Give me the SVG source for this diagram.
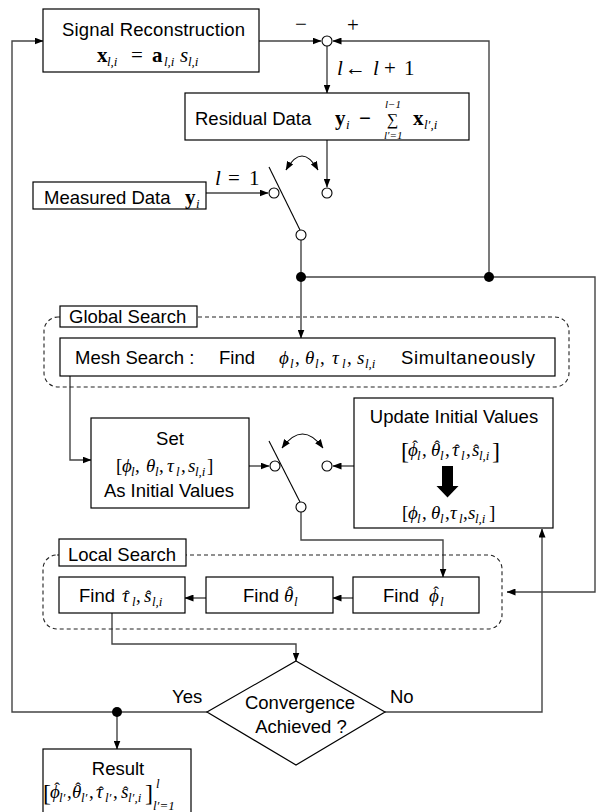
<svg xmlns="http://www.w3.org/2000/svg" width="599" height="812" viewBox="0 0 599 812">
<style>
  .box { fill: #fff; stroke: #000; stroke-width: 1.2; }
  .dash { fill: none; stroke: #222; stroke-width: 1.1; stroke-dasharray: 4 3; }
  .wire { fill: none; stroke: #444; stroke-width: 1.4; }
  .sw { fill: none; stroke: #000; stroke-width: 1.1; }
  .node { fill: #fff; stroke: #000; stroke-width: 1.1; }
  .dot { fill: #000; }
  .t { font-family: "Liberation Sans", Arial, sans-serif; font-size: 18.5px; fill: #000; }
  .m { font-family: "Liberation Serif", "DejaVu Serif", serif; font-style: italic; font-size: 21px; fill: #000; }
  .ms { font-family: "Liberation Serif", "DejaVu Serif", serif; font-style: italic; font-size: 19px; fill: #000; }
  .hat { font-style: normal; font-size: 17px; }
  .sig { font-style: normal; font-size: 16px; }
  .s { font-size: 13px; }
  .xs { font-size: 11px; }
  .b { font-weight: bold; font-style: normal; }
  .u { font-style: normal; }
  .br { font-style: normal; font-size: 24px; }
</style>
<defs>
  <marker id="arr" markerUnits="userSpaceOnUse" markerWidth="9" markerHeight="7" refX="8.5" refY="3.5" orient="auto-start-reverse">
    <path d="M0,0 L9,3.5 L0,7 z" fill="#000"/>
  </marker>
</defs>

<!-- connectors -->
<g id="connectors">
  <path class="wire" d="M259,41 H321" marker-end="url(#arr)"/>
  <path class="wire" d="M489,277 V41 H333" marker-end="url(#arr)"/>
  <path class="wire" d="M327,46 V93" marker-end="url(#arr)"/>
  <path class="wire" d="M327,140 V187" marker-end="url(#arr)"/>
  <path class="wire" d="M206,193 H268" marker-end="url(#arr)"/>
  <path class="wire" d="M301,240 V338" marker-end="url(#arr)"/>
  <path class="wire" d="M301,277 H595 V592 H507" marker-end="url(#arr)"/>
  <path class="wire" d="M70,376 V460 H91" marker-end="url(#arr)"/>
  <path class="wire" d="M249,466 H269" marker-end="url(#arr)"/>
  <path class="wire" d="M354,466 H333" marker-end="url(#arr)"/>
  <path class="wire" d="M301,512 V540 H443 V577" marker-end="url(#arr)"/>
  <path class="wire" d="M353,598 H333" marker-end="url(#arr)"/>
  <path class="wire" d="M206,598 H185" marker-end="url(#arr)"/>
  <path class="wire" d="M112,613 V644 H296 V661" marker-end="url(#arr)"/>
  <path class="wire" d="M385,712 H542 V529" marker-end="url(#arr)"/>
  <path class="wire" d="M207,712 H12 V41 H43" marker-end="url(#arr)"/>
  <path class="wire" d="M117,712 V749" marker-end="url(#arr)"/>
  <circle class="dot" cx="301" cy="277" r="5"/>
  <circle class="dot" cx="489" cy="277" r="5"/>
  <circle class="dot" cx="117" cy="712" r="5"/>
</g>

<!-- summing junction -->
<g id="sum">
  <circle class="node" cx="327" cy="41" r="5"/>
  <text class="m u" x="295" y="31">−</text>
  <text class="m u" x="347" y="32">+</text>
  <text class="m"><tspan x="337" y="75">l</tspan><tspan class="u" x="345" y="75">←</tspan><tspan x="373" y="75">l</tspan><tspan class="u" x="384" y="75">+</tspan><tspan class="u" x="404" y="75">1</tspan></text>
</g>

<!-- signal reconstruction -->
<g id="signal">
  <rect class="box" x="43" y="9" width="216" height="63"/>
  <text class="t" x="62" y="36" textLength="183">Signal Reconstruction</text>
  <text class="m"><tspan class="b" x="97" y="62">x</tspan><tspan class="s" x="107" y="66">l,i</tspan><tspan class="u" x="131" y="62">=</tspan><tspan class="b" x="152" y="62">a</tspan><tspan class="s" x="164" y="66">l,i</tspan><tspan x="180" y="62">s</tspan><tspan class="s" x="188" y="66">l,i</tspan></text>
</g>

<!-- residual data -->
<g id="residual">
  <rect class="box" x="185" y="93" width="284" height="47"/>
  <text class="t" x="195" y="125">Residual Data</text>
  <text class="m"><tspan class="b" x="335" y="125">y</tspan><tspan class="s" x="346" y="129">i</tspan><tspan class="b" x="359" y="125">−</tspan><tspan class="xs" x="385" y="108">l−1</tspan><tspan class="sig" x="387" y="125">∑</tspan><tspan class="xs" x="384" y="139">l′=1</tspan><tspan class="b" x="413" y="125">x</tspan><tspan class="s" x="424" y="129">l′,i</tspan></text>
</g>

<!-- measured data -->
<g id="measured">
  <rect class="box" x="33" y="182" width="173" height="27"/>
  <text class="t" x="44" y="204">Measured Data</text>
  <text class="m"><tspan class="b" x="185" y="204">y</tspan><tspan class="s" x="196" y="208">i</tspan></text>
  <text class="m"><tspan x="215" y="185">l</tspan><tspan class="u" x="228" y="185">=</tspan><tspan class="u" x="249" y="185">1</tspan></text>
</g>

<!-- first switch -->
<g id="switch1">
  <line class="sw" x1="269" y1="167" x2="300" y2="230"/>
  <path class="sw" d="M286,170 Q302,142 318,170" marker-start="url(#arr)" marker-end="url(#arr)"/>
  <circle class="node" cx="274" cy="193" r="5"/>
  <circle class="node" cx="327" cy="193" r="5"/>
  <circle class="node" cx="301" cy="235" r="5"/>
</g>

<!-- global search -->
<g id="global-search">
  <rect class="dash" x="44" y="317" width="525" height="70" rx="14"/>
  <rect class="box" x="60" y="306" width="137" height="21"/>
  <text class="t" x="69" y="323">Global Search</text>
</g>

<g id="mesh">
  <rect class="box" x="60" y="338" width="495" height="38"/>
  <text class="t" x="75" y="364">Mesh Search :</text>
  <text class="t" x="219" y="364">Find</text>
  <text class="ms"><tspan x="279" y="364">ϕ</tspan><tspan class="s" x="290" y="368">l</tspan><tspan class="u" x="295" y="364">,</tspan><tspan x="305" y="364">θ</tspan><tspan class="s" x="315" y="368">l</tspan><tspan class="u" x="320" y="364">,</tspan><tspan x="332" y="364">τ</tspan><tspan class="s" x="342" y="368">l</tspan><tspan class="u" x="347" y="364">,</tspan><tspan x="357" y="364">s</tspan><tspan class="s" x="365" y="368">l,i</tspan></text>
  <text class="t" x="401" y="364" textLength="134">Simultaneously</text>
</g>

<!-- set initial values -->
<g id="set">
  <rect class="box" x="91" y="418" width="158" height="90"/>
  <text class="t" x="170" y="445" text-anchor="middle">Set</text>
  <text class="ms"><tspan class="u" x="116" y="472">[</tspan><tspan x="122" y="472">ϕ</tspan><tspan class="s" x="131" y="476">l</tspan><tspan class="u" x="135" y="472">,</tspan><tspan x="146" y="472">θ</tspan><tspan class="s" x="155" y="476">l</tspan><tspan class="u" x="159" y="472">,</tspan><tspan x="167" y="472">τ</tspan><tspan class="s" x="176" y="476">l</tspan><tspan class="u" x="181" y="472">,</tspan><tspan x="188" y="472">s</tspan><tspan class="s" x="195" y="476">l,i</tspan><tspan class="u" x="207" y="472">]</tspan></text>
  <text class="t" x="169" y="497" text-anchor="middle">As Initial Values</text>
</g>

<!-- second switch -->
<g id="switch2">
  <line class="sw" x1="269" y1="441" x2="300" y2="502"/>
  <path class="sw" d="M282,448 Q302.5,420 323,448" marker-start="url(#arr)" marker-end="url(#arr)"/>
  <circle class="node" cx="275" cy="466" r="5"/>
  <circle class="node" cx="327" cy="466" r="5"/>
  <circle class="node" cx="301" cy="507" r="5"/>
</g>

<!-- update initial values -->
<g id="update">
  <rect class="box" x="354" y="398" width="199" height="130"/>
  <text class="t" x="454" y="423" text-anchor="middle">Update Initial Values</text>
  <text class="ms"><tspan class="br" x="401" y="459">[</tspan><tspan x="408" y="456">ϕ</tspan><tspan class="hat" x="412.2" y="452">ˆ</tspan><tspan class="s" x="417" y="460">l</tspan><tspan class="u" x="422" y="456">,</tspan><tspan x="431" y="456">θ</tspan><tspan class="hat" x="434.2" y="452">ˆ</tspan><tspan class="s" x="440" y="460">l</tspan><tspan class="u" x="445" y="456">,</tspan><tspan x="452" y="456">τ</tspan><tspan class="hat" x="454.2" y="456">ˆ</tspan><tspan class="s" x="461" y="460">l</tspan><tspan class="u" x="466" y="456">,</tspan><tspan x="472" y="456">s</tspan><tspan class="hat" x="473.2" y="456">ˆ</tspan><tspan class="s" x="479" y="460">l,i</tspan><tspan class="br" x="492" y="459">]</tspan></text>
  <polygon points="442,466 453,466 453,486 458.5,486 447.5,497.5 436.5,486 442,486" fill="#000"/>
  <text class="ms"><tspan class="u" x="402" y="519">[</tspan><tspan x="408" y="519">ϕ</tspan><tspan class="s" x="417" y="523">l</tspan><tspan class="u" x="422" y="519">,</tspan><tspan x="431" y="519">θ</tspan><tspan class="s" x="440" y="523">l</tspan><tspan class="u" x="445" y="519">,</tspan><tspan x="450" y="519">τ</tspan><tspan class="s" x="459" y="523">l</tspan><tspan class="u" x="463" y="519">,</tspan><tspan x="468" y="519">s</tspan><tspan class="s" x="475" y="523">l,i</tspan><tspan class="u" x="489" y="519">]</tspan></text>
</g>

<!-- local search -->
<g id="local-search">
  <rect class="dash" x="43" y="555" width="459" height="74" rx="14"/>
  <rect class="box" x="59" y="539" width="127" height="27"/>
  <text class="t" x="68" y="561">Local Search</text>
</g>

<g id="find-tau-s">
  <rect class="box" x="59" y="577" width="126" height="36"/>
  <text class="t" x="79" y="602">Find</text>
  <text class="ms"><tspan x="122" y="602">τ</tspan><tspan class="hat" x="124.2" y="602">ˆ</tspan><tspan class="s" x="132" y="606">l</tspan><tspan class="u" x="136" y="602">,</tspan><tspan x="144" y="602">s</tspan><tspan class="hat" x="145.7" y="602">ˆ</tspan><tspan class="s" x="152" y="606">l,i</tspan></text>
</g>

<g id="find-theta">
  <rect class="box" x="206" y="577" width="127" height="36"/>
  <text class="t" x="243" y="602">Find</text>
  <text class="ms"><tspan x="284" y="602">θ</tspan><tspan class="hat" x="287.2" y="598">ˆ</tspan><tspan class="s" x="294" y="606">l</tspan></text>
</g>

<g id="find-phi">
  <rect class="box" x="353" y="577" width="126" height="36"/>
  <text class="t" x="383" y="602">Find</text>
  <text class="ms"><tspan x="429" y="602">ϕ</tspan><tspan class="hat" x="433.2" y="598">ˆ</tspan><tspan class="s" x="440" y="606">l</tspan></text>
</g>

<!-- convergence test -->
<g id="convergence">
  <polygon class="box" points="296,661 385,712 296,765 207,712"/>
  <text class="t" x="300" y="709" text-anchor="middle">Convergence</text>
  <text class="t" x="301" y="733" text-anchor="middle">Achieved ?</text>
  <text class="t" x="172" y="703">Yes</text>
  <text class="t" x="390" y="703">No</text>
</g>

<!-- result -->
<g id="result">
  <rect class="box" x="43" y="749" width="148" height="70"/>
  <text class="t" x="118" y="775" text-anchor="middle">Result</text>
  <text class="ms"><tspan class="br" x="43" y="801">[</tspan><tspan x="50" y="798">ϕ</tspan><tspan class="hat" x="54.2" y="794">ˆ</tspan><tspan class="s" x="59" y="802">l′</tspan><tspan class="u" x="67" y="798">,</tspan><tspan x="72" y="798">θ</tspan><tspan class="hat" x="75.2" y="794">ˆ</tspan><tspan class="s" x="81" y="802">l′</tspan><tspan class="u" x="89" y="798">,</tspan><tspan x="96" y="798">τ</tspan><tspan class="hat" x="98.2" y="798">ˆ</tspan><tspan class="s" x="105" y="802">l′</tspan><tspan class="u" x="113" y="798">,</tspan><tspan x="121" y="798">s</tspan><tspan class="hat" x="122.7" y="798">ˆ</tspan><tspan class="s" x="128" y="802">l′,i</tspan><tspan class="br" x="145" y="801">]</tspan><tspan class="s" x="156" y="788">l</tspan><tspan class="s" x="153" y="810">l′=1</tspan></text>
</g>
</svg>
